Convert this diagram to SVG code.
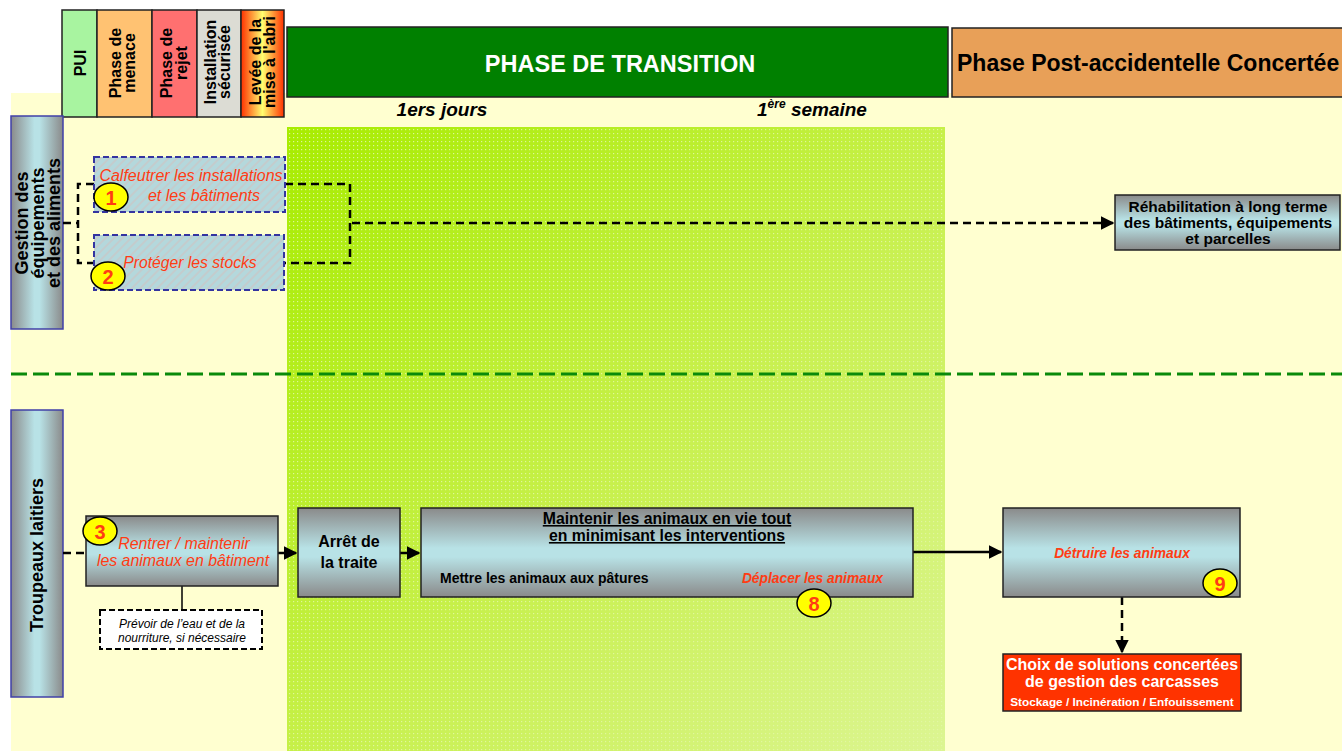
<svg xmlns="http://www.w3.org/2000/svg" width="1342" height="751" viewBox="0 0 1342 751">
  <defs>
    <style>
      text { font-family: "Liberation Sans", Arial, sans-serif; }
      .b { font-weight: bold; }
      .hdr { font-weight: bold; font-size: 16px; fill: #000; }
      .lane { font-weight: bold; font-size: 18px; fill: #000; }
      .red { fill: #ff3c14; font-style: italic; }
      .dash { fill: none; stroke: #000; stroke-width: 2.5; stroke-dasharray: 8 5; }
      .solid { fill: none; stroke: #000; stroke-width: 2.5; }
      .gbox { fill: url(#gv); stroke: #222; stroke-width: 1.5; }
      .hbox { fill: url(#hatch); stroke: #3434a0; stroke-width: 2; stroke-dasharray: 6 3; }
      .num { fill: #ffff00; stroke: #000; stroke-width: 1.5; }
      .numt { font-weight: bold; font-size: 20px; fill: #ff3c14; text-anchor: middle; }
    </style>
    <linearGradient id="gv" x1="0" y1="0" x2="0" y2="1">
      <stop offset="0" stop-color="#8a8a8a"/>
      <stop offset="0.45" stop-color="#b8e2e6"/>
      <stop offset="0.55" stop-color="#b8e2e6"/>
      <stop offset="1" stop-color="#8a8a8a"/>
    </linearGradient>
    <linearGradient id="gh" x1="0" y1="0" x2="1" y2="0">
      <stop offset="0" stop-color="#8a8a8a"/>
      <stop offset="0.45" stop-color="#b8e2e6"/>
      <stop offset="0.55" stop-color="#b8e2e6"/>
      <stop offset="1" stop-color="#8a8a8a"/>
    </linearGradient>
    <linearGradient id="glev" x1="0" y1="0" x2="1" y2="0">
      <stop offset="0" stop-color="#ff3000"/>
      <stop offset="0.5" stop-color="#ffff70"/>
      <stop offset="1" stop-color="#ff3000"/>
    </linearGradient>
    <linearGradient id="ggreen" x1="0" y1="0" x2="1" y2="1">
      <stop offset="0" stop-color="#a8ec00"/>
      <stop offset="0.5" stop-color="#c6f048"/>
      <stop offset="1" stop-color="#dcf592"/>
    </linearGradient>
    <linearGradient id="gfade" x1="0" y1="0" x2="1" y2="1">
      <stop offset="0" stop-color="#fff" stop-opacity="1"/>
      <stop offset="0.6" stop-color="#fff" stop-opacity="0.7"/>
      <stop offset="1" stop-color="#fff" stop-opacity="0.3"/>
    </linearGradient>
    <pattern id="dots" width="4" height="4" patternUnits="userSpaceOnUse">
      <rect x="1" y="1" width="1.2" height="1.2" fill="#fff" fill-opacity="0.6"/>
    </pattern>
    <mask id="dotmask">
      <rect x="287" y="127" width="658" height="624" fill="url(#gfade)"/>
    </mask>
    <pattern id="hatch" width="6" height="6" patternUnits="userSpaceOnUse" patternTransform="rotate(-45)">
      <rect width="6" height="6" fill="#b4d8dc"/>
      <line x1="0" y1="3" x2="6" y2="3" stroke="#c8c8c8" stroke-width="1.5"/>
    </pattern>
    <marker id="arr" viewBox="0 0 10 10" refX="9" refY="5" markerWidth="5.5" markerHeight="5.5" orient="auto" markerUnits="strokeWidth">
      <path d="M0,0 L10,5 L0,10 z" fill="#000"/>
    </marker>
  </defs>

  <!-- page background -->
  <rect width="1342" height="751" fill="#fff"/>
  <rect x="11" y="93" width="1331" height="658" fill="#ffffd0"/>

  <!-- transition period band -->
  <g id="transition-band">
    <rect x="287" y="127" width="658" height="624" fill="url(#ggreen)"/>
    <rect x="287" y="127" width="658" height="624" fill="url(#dots)" mask="url(#dotmask)"/>
  </g>

  <!-- lane separator -->
  <line x1="11" y1="374" x2="1342" y2="374" stroke="#0a8a0a" stroke-width="3" stroke-dasharray="16 6"/>

  <!-- emergency phase header cells -->
  <g id="hdr-pui">
    <rect x="62" y="10" width="35" height="107" fill="#a8f4a0" stroke="#222" stroke-width="1.5"/>
    <text class="hdr" transform="translate(86,63) rotate(-90)" text-anchor="middle">PUI</text>
  </g>
  <g id="hdr-menace">
    <rect x="97" y="10" width="55" height="107" fill="#ffc272" stroke="#222" stroke-width="1.5"/>
    <text class="hdr" transform="translate(121,63) rotate(-90)" text-anchor="middle">Phase de</text>
    <text class="hdr" transform="translate(135,63) rotate(-90)" text-anchor="middle">menace</text>
  </g>
  <g id="hdr-rejet">
    <rect x="152" y="10" width="45" height="107" fill="#ff7070" stroke="#222" stroke-width="1.5"/>
    <text class="hdr" transform="translate(172,63) rotate(-90)" text-anchor="middle">Phase de</text>
    <text class="hdr" transform="translate(187,63) rotate(-90)" text-anchor="middle">rejet</text>
  </g>
  <g id="hdr-securisee">
    <rect x="197" y="10" width="44" height="107" fill="#dcdcd4" stroke="#222" stroke-width="1.5"/>
    <text class="hdr" transform="translate(216,62) rotate(-90)" text-anchor="middle">Installation</text>
    <text class="hdr" transform="translate(230,62) rotate(-90)" text-anchor="middle">sécurisée</text>
  </g>
  <g id="hdr-levee">
    <rect x="241" y="10" width="43" height="107" fill="url(#glev)" stroke="#222" stroke-width="1.5"/>
    <text class="hdr" transform="translate(261,62) rotate(-90)" text-anchor="middle">Levée de la</text>
    <text class="hdr" transform="translate(275,62) rotate(-90)" text-anchor="middle">mise à l'abri</text>
  </g>

  <!-- main phase headers -->
  <g id="hdr-transition">
    <rect x="287" y="27" width="661" height="70" fill="#008000" stroke="#222" stroke-width="1.5"/>
    <text x="620" y="72" class="b" font-size="23.5" fill="#fff" text-anchor="middle">PHASE DE TRANSITION</text>
  </g>
  <g id="hdr-post">
    <rect x="952" y="28" width="400" height="69" fill="#e8a058" stroke="#222" stroke-width="1.5"/>
    <text x="957" y="71" class="b" font-size="23" fill="#000">Phase Post-accidentelle Concertée</text>
  </g>
  <text x="442" y="116" class="b" font-size="19" font-style="italic" text-anchor="middle">1ers jours</text>
  <text x="757" y="116" class="b" font-size="19" font-style="italic">1<tspan font-size="12" dy="-8">ère</tspan><tspan dy="8"> semaine</tspan></text>

  <!-- lane headers -->
  <g id="lane-gestion">
    <rect x="11" y="116" width="52" height="213" fill="url(#gh)" stroke="#4040a8" stroke-width="1.5"/>
    <text class="lane" transform="translate(28,223) rotate(-90)" text-anchor="middle">Gestion des</text>
    <text class="lane" transform="translate(44,223) rotate(-90)" text-anchor="middle">équipements</text>
    <text class="lane" transform="translate(60,223) rotate(-90)" text-anchor="middle">et des aliments</text>
  </g>
  <g id="lane-troupeaux">
    <rect x="11" y="410" width="52" height="287" fill="url(#gh)" stroke="#4040a8" stroke-width="1.5"/>
    <text class="lane" transform="translate(43,555) rotate(-90)" text-anchor="middle">Troupeaux laitiers</text>
  </g>

  <!-- connectors -->
  <g id="connectors">
    <path class="dash" d="M63,223 H78 M94,184 H78 V263 H94"/>
    <path class="dash" d="M285,184 H350 V263 H284"/>
    <path class="dash" d="M352,223 H1113" marker-end="url(#arr)"/>
    <path class="dash" d="M63,553 H86"/>
    <path d="M182,586 V610" stroke="#000" stroke-width="1.5"/>
    <path class="solid" d="M278,553 H296" marker-end="url(#arr)"/>
    <path class="solid" d="M400,553 H419" marker-end="url(#arr)"/>
    <path class="solid" d="M913,552 H1001" marker-end="url(#arr)"/>
    <path class="dash" d="M1122,597 V652" marker-end="url(#arr)"/>
  </g>

  <!-- management lane actions -->
  <g id="n1-calfeutrer">
    <rect class="hbox" x="94" y="157" width="191" height="55"/>
    <text x="191" y="181" class="red" font-size="16" text-anchor="middle">Calfeutrer les installations</text>
    <text x="204" y="201" class="red" font-size="16" text-anchor="middle">et les bâtiments</text>
    <ellipse class="num" cx="111" cy="197" rx="17" ry="14"/>
    <text x="111" y="205" class="numt">1</text>
  </g>
  <g id="n2-stocks">
    <rect class="hbox" x="94" y="235" width="190" height="55"/>
    <text x="190" y="268" class="red" font-size="15.7" text-anchor="middle">Protéger les stocks</text>
    <ellipse class="num" cx="108" cy="276" rx="17" ry="14"/>
    <text x="108" y="284" class="numt">2</text>
  </g>
  <g id="n-rehabilitation">
    <rect class="gbox" x="1115" y="195" width="225" height="55"/>
    <text x="1228" y="212" class="b" font-size="15.5" text-anchor="middle">Réhabilitation à long terme</text>
    <text x="1228" y="228" class="b" font-size="15.5" text-anchor="middle">des bâtiments, équipements</text>
    <text x="1228" y="244" class="b" font-size="15.5" text-anchor="middle">et parcelles</text>
  </g>

  <!-- dairy herd lane actions -->
  <g id="n3-rentrer">
    <rect class="gbox" x="86" y="516" width="192" height="70"/>
    <text x="184" y="549" class="red" font-size="15.9" text-anchor="middle">Rentrer / maintenir</text>
    <text x="183" y="566" class="red" font-size="15.9" text-anchor="middle">les animaux en bâtiment</text>
    <ellipse class="num" cx="100" cy="531" rx="17" ry="14"/>
    <text x="100" y="539" class="numt">3</text>
  </g>
  <g id="n-prevoir">
    <rect x="100" y="610" width="162" height="39" fill="#fff" stroke="#000" stroke-width="2" stroke-dasharray="6 3"/>
    <text x="182" y="628" font-size="12" font-style="italic" text-anchor="middle">Prévoir de l’eau et  de la</text>
    <text x="182" y="642" font-size="12" font-style="italic" text-anchor="middle">nourriture, si nécessaire</text>
  </g>
  <g id="n-arret">
    <rect class="gbox" x="298" y="508" width="102" height="89"/>
    <text x="349" y="547" class="b" font-size="16" text-anchor="middle">Arrêt de</text>
    <text x="349" y="568" class="b" font-size="16" text-anchor="middle">la traite</text>
  </g>
  <g id="n-maintenir">
    <rect class="gbox" x="421" y="508" width="492" height="89"/>
    <text x="667" y="524" class="b" font-size="15.8" text-anchor="middle" text-decoration="underline">Maintenir les animaux en vie tout</text>
    <text x="667" y="541" class="b" font-size="15.8" text-anchor="middle" text-decoration="underline">en minimisant les interventions</text>
    <text x="440" y="583" class="b" font-size="14">Mettre les animaux aux pâtures</text>
    <text x="883" y="583" class="red b" font-size="13.8" text-anchor="end">Déplacer les animaux</text>
    <ellipse class="num" cx="814" cy="603" rx="17" ry="14"/>
    <text x="814" y="611" class="numt">8</text>
  </g>
  <g id="n-detruire">
    <rect class="gbox" x="1003" y="508" width="237" height="89"/>
    <text x="1122" y="558" class="red b" font-size="13.8" text-anchor="middle">Détruire les animaux</text>
    <ellipse class="num" cx="1220" cy="583" rx="17" ry="14"/>
    <text x="1220" y="591" class="numt">9</text>
  </g>
  <g id="n-carcasses">
    <rect x="1003" y="654" width="238" height="57" fill="#ff3300" stroke="#222" stroke-width="1.5"/>
    <text x="1122" y="670" class="b" font-size="16" fill="#fff" text-anchor="middle">Choix de solutions concertées</text>
    <text x="1122" y="687" class="b" font-size="16" fill="#fff" text-anchor="middle">de gestion des carcasses</text>
    <text x="1122" y="706" class="b" font-size="11.8" fill="#fff" text-anchor="middle">Stockage / Incinération / Enfouissement</text>
  </g>
</svg>
